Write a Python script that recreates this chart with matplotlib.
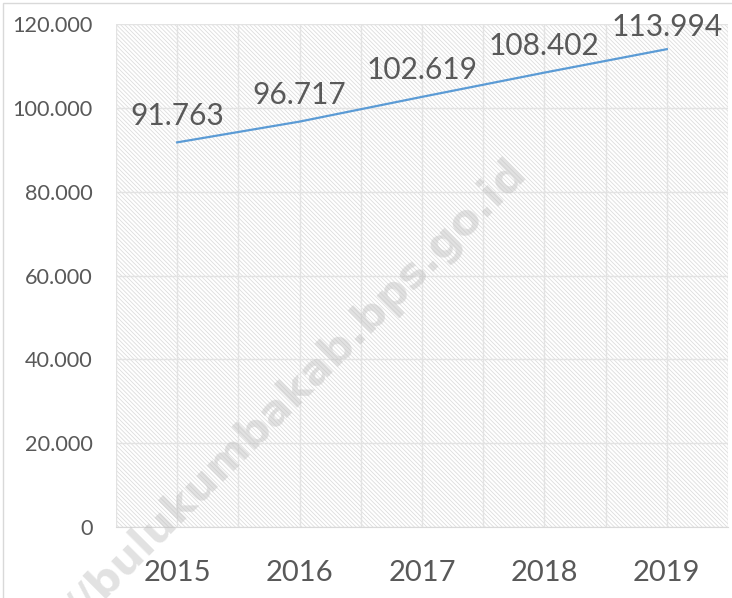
import matplotlib
matplotlib.use("Agg")
import matplotlib.pyplot as plt
from matplotlib.patches import Rectangle

# data
years = ["2015", "2016", "2017", "2018", "2019"]
values = [91.763, 96.717, 102.619, 108.402, 113.994]
labels = ["91.763", "96.717", "102.619", "108.402", "113.994"]
y_ticks = [0, 20, 40, 60, 80, 100, 120]
y_tick_labels = ["0", "20.000", "40.000", "60.000", "80.000", "100.000", "120.000"]

plt.rcParams["font.family"] = ["Lato", "DejaVu Sans"]
plt.rcParams["hatch.linewidth"] = 0.6
text_grey = "#595959"
grid_grey = "#e3e3e3"

fig = plt.figure(figsize=(7.32, 5.98), dpi=100)
ax = fig.add_axes([116 / 732, 1 - 527 / 598, (728 - 116) / 732, (527 - 24) / 598])

# border of the chart area
fig.patches.append(Rectangle((3 / 732, -0.05), 1.2, 1 - 3 / 598 + 0.05,
                             transform=fig.transFigure, fill=False,
                             edgecolor="#d9d9d9", linewidth=1.0))

# hatched plot area
ax.set_facecolor("white")
ax.add_patch(Rectangle((0, 0), 1, 1, transform=ax.transAxes, facecolor="white",
                       edgecolor="#dddddd", hatch="\\\\\\\\\\\\\\\\", linewidth=0, zorder=0))

x = list(range(len(years)))
ax.plot(x, values, color="#5B9BD5", linewidth=1.6, zorder=4)

for xi, v, lab in zip(x, values, labels):
    ly = min(v + 6.4, 119.4)
    ax.text(xi, ly, lab, ha="center", va="center", fontsize=21.5, color=text_grey, zorder=5)

ax.set_xlim(-0.5, len(years) - 0.5)
ax.set_ylim(0, 120)
ax.set_xticks(x)
ax.set_xticklabels(years, fontsize=21, color=text_grey)
ax.set_xticks([i + 0.5 for i in range(-1, len(years))], minor=True)
ax.set_yticks(y_ticks)
ax.set_yticklabels(y_tick_labels, fontsize=15.6, color=text_grey)
ax.tick_params(axis="x", which="both", length=0, pad=24)
ax.tick_params(axis="y", length=0, pad=17)
ax.grid(True, which="both", axis="x", color=grid_grey, linewidth=1.0, zorder=1)
ax.grid(True, which="major", axis="y", color=grid_grey, linewidth=1.0, zorder=1)
ax.set_axisbelow(True)
for s in ["top", "right", "left"]:
    ax.spines[s].set_visible(False)
ax.spines["bottom"].set_color("#d9d9d9")

# watermark
fig.text(520 / 732, 1 - 168 / 598, "//bulukumbakab.bps.go.id", ha="right", va="center",
         rotation=45, rotation_mode="anchor", fontsize=31, fontweight="bold",
         family=["DejaVu Sans"], color="#bfbfbf", alpha=0.45, zorder=10)

fig.savefig("out.png", dpi=100)
